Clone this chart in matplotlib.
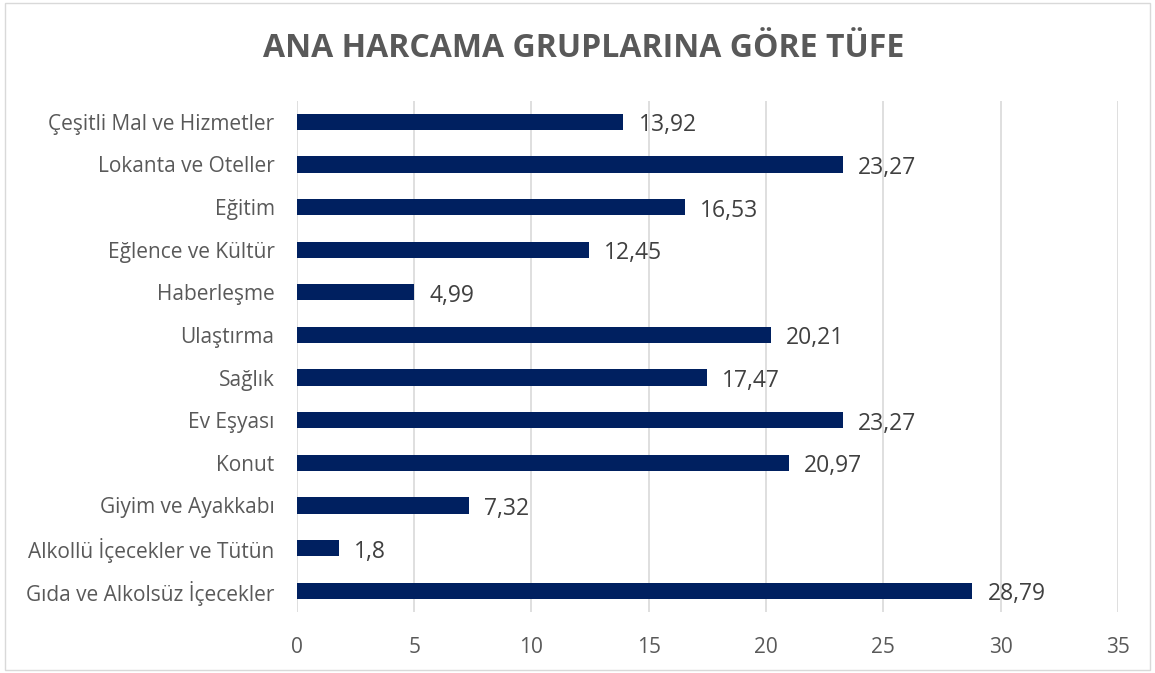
import matplotlib
matplotlib.use("Agg")
import matplotlib.pyplot as plt
from matplotlib.patches import Rectangle

categories = ["Gıda ve Alkolsüz İçecekler", "Alkollü İçecekler ve Tütün", "Giyim ve Ayakkabı",
              "Konut", "Ev Eşyası", "Sağlık", "Ulaştırma", "Haberleşme",
              "Eğlence ve Kültür", "Eğitim", "Lokanta ve Oteller", "Çeşitli Mal ve Hizmetler"]
values = [28.79, 1.8, 7.32, 20.97, 23.27, 17.47, 20.21, 4.99, 12.45, 16.53, 23.27, 13.92]
labels = ["28,79", "1,8", "7,32", "20,97", "23,27", "17,47", "20,21", "4,99", "12,45", "16,53", "23,27", "13,92"]
xticks = [0, 5, 10, 15, 20, 25, 30, 35]

plt.rcParams['font.family'] = ['Open Sans', 'DejaVu Sans']
txt = "#595959"

fig = plt.figure(figsize=(11.55, 6.73), dpi=100)
ax = fig.add_axes([0.257, 0.0906, 0.711, 0.760])
y = list(range(len(categories)))
ax.barh(y, values, height=0.38, color="#002060", zorder=3)
for yi, v, l in zip(y, values, labels):
    ax.text(v + 0.65, yi - 0.08, l, va="center", ha="left", fontsize=16.5, color="#404040")
ax.set_xlim(0, 35)
ax.set_ylim(-0.5, len(categories) - 0.5)
ax.set_xticks(xticks)
ax.set_xticklabels([str(t) for t in xticks])
ax.set_yticks(y)
ax.set_yticklabels(categories)
ax.tick_params(axis='x', length=0, pad=18, labelsize=15, labelcolor=txt)
ax.tick_params(axis='y', length=0, pad=16, labelsize=15, labelcolor=txt)
ax.grid(axis='x', color="#d9d9d9", linewidth=1.2, zorder=0)
for s in ax.spines.values():
    s.set_visible(False)

fig.text(0.505, 0.928, "ANA HARCAMA GRUPLARINA GÖRE TÜFE", ha="center", va="center",
         fontsize=23, fontweight="bold", color=txt)
fig.patches.append(Rectangle((0.004, 0.004), 0.992, 0.992, transform=fig.transFigure,
                             fill=False, edgecolor="#d9d9d9", linewidth=1))
fig.savefig("out.png", dpi=100)
